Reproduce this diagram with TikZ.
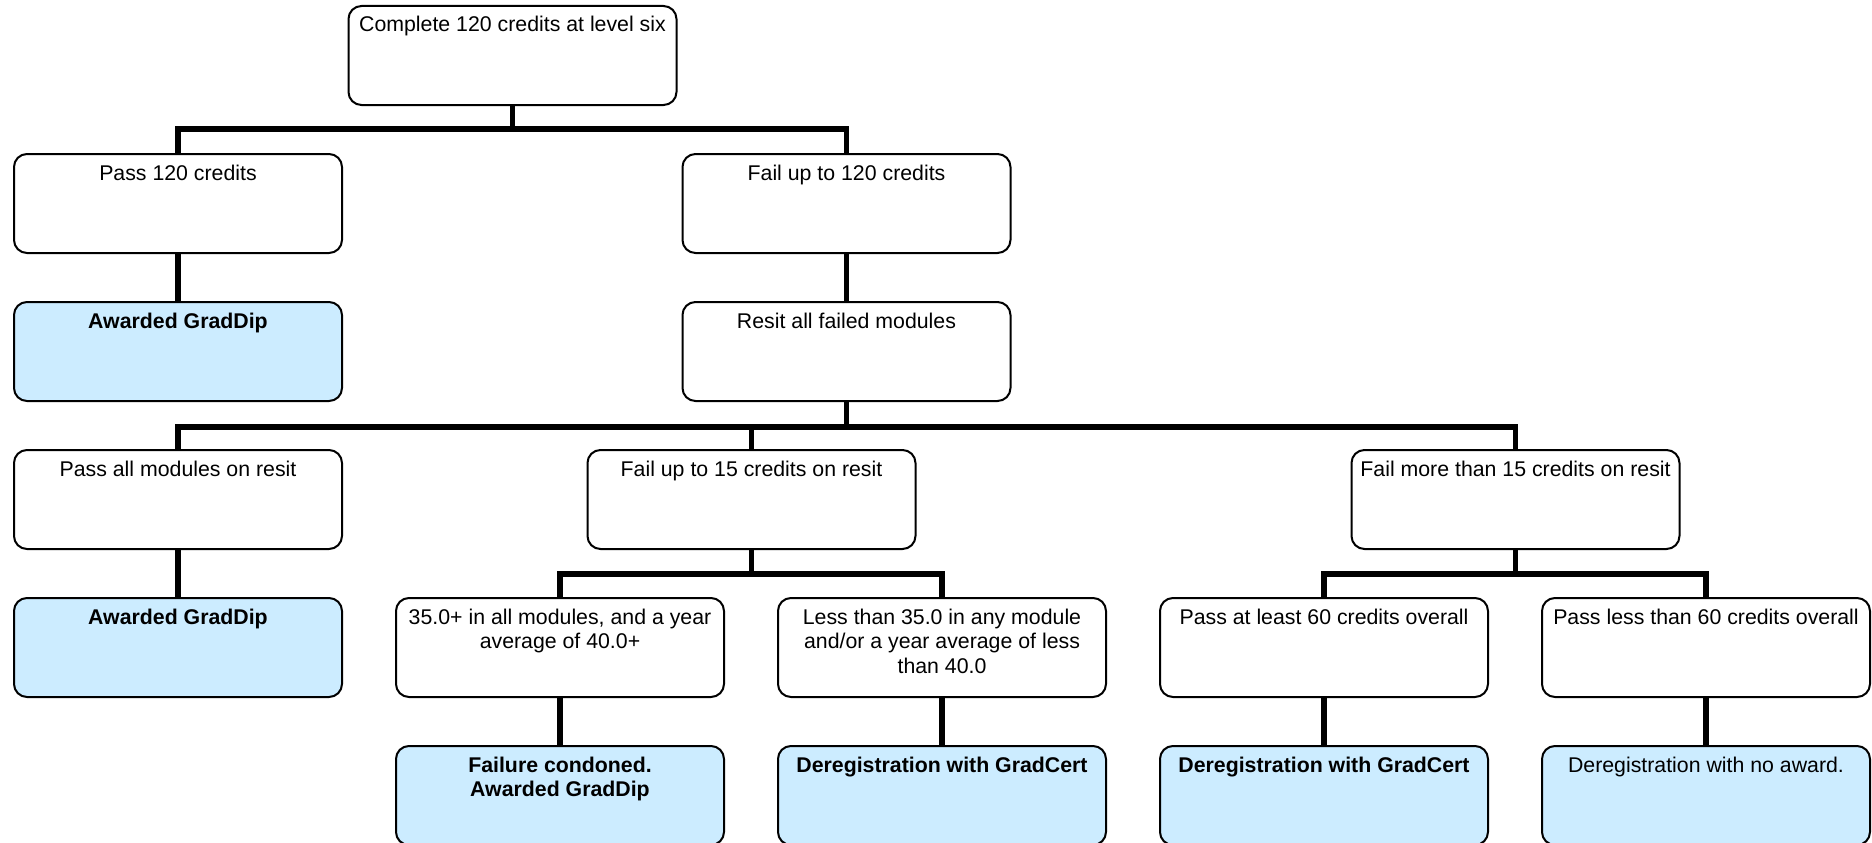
\documentclass[tikz,border=0pt]{standalone}
\usepackage{fontspec}
\setmainfont{Liberation Sans}
\usetikzlibrary{calc}
\definecolor{outcome}{RGB}{204,236,255}
\newcommand{\boxtext}[1]{\parbox[c][99pt][t]{328pt}{\centering\fontsize{21.3}{24.5}\selectfont\rule{0pt}{26pt}#1}}
\tikzset{
  box/.style={draw=black, line width=2pt, rounded corners=13pt, fill=white,
    inner sep=0pt, outer sep=0pt, anchor=north, minimum width=328pt, minimum height=99pt},
  outbox/.style={box, fill=outcome},
  conn/.style={line width=5.5pt},
}
\begin{document}
\begin{tikzpicture}[x=1pt, y=-1pt]
\useasboundingbox (0,0) rectangle (1872,843);

% decision boxes
\node[box] (top) at (512.5,6) {\boxtext{Complete 120 credits at level six}};
\node[box] (pass120) at (178,154) {\boxtext{Pass 120 credits}};
\node[box] (fail120) at (846.5,154) {\boxtext{Fail up to 120 credits}};
\node[outbox] (grad1) at (178,302) {\boxtext{\textbf{Awarded GradDip}}};
\node[box] (resit) at (846.5,302) {\boxtext{Resit all failed modules}};
\node[box] (passall) at (178,450) {\boxtext{Pass all modules on resit}};
\node[box] (fail15) at (751.5,450) {\boxtext{Fail up to 15 credits on resit}};
\node[box] (failmore) at (1515.5,450) {\boxtext{Fail more than 15 credits on resit}};
\node[outbox] (grad2) at (178,598) {\boxtext{\textbf{Awarded GradDip}}};
\node[box] (above35) at (560,598) {\boxtext{35.0+ in all modules, and a year\\average of 40.0+}};
\node[box] (below35) at (942,598) {\boxtext{Less than 35.0 in any module\\and/or a year average of less\\than 40.0}};
\node[box] (least60) at (1324,598) {\boxtext{Pass at least 60 credits overall}};
\node[box] (less60) at (1706,598) {\boxtext{Pass less than 60 credits overall}};

% outcomes
\node[outbox] (condoned) at (560,746) {\boxtext{\textbf{Failure condoned.}\\\textbf{Awarded GradDip}}};
\node[outbox] (cert1) at (942,746) {\boxtext{\textbf{Deregistration with GradCert}}};
\node[outbox] (cert2) at (1324,746) {\boxtext{\textbf{Deregistration with GradCert}}};
\node[outbox] (noaward) at (1706,746) {\boxtext{Deregistration with no award.}};

% branch points
\coordinate (j1) at ($(top.south)+(0,24)$);
\coordinate (j2) at ($(resit.south)+(0,26)$);
\coordinate (j3) at ($(fail15.south)+(0,25)$);
\coordinate (j4) at ($(failmore.south)+(0,25)$);

% connectors
\draw[conn] (top.south) -- (j1);
\draw[conn] (pass120.north) |- (j1) -| (fail120.north);
\draw[conn] (pass120.south) -- (grad1.north);
\draw[conn] (fail120.south) -- (resit.north);
\draw[conn] (resit.south) -- (j2);
\draw[conn] (passall.north) |- (j2) -| (failmore.north);
\draw[conn] (fail15.north) -- (fail15.north |- j2);
\draw[conn] (passall.south) -- (grad2.north);
\draw[conn] (fail15.south) -- (j3);
\draw[conn] (above35.north) |- (j3) -| (below35.north);
\draw[conn] (failmore.south) -- (j4);
\draw[conn] (least60.north) |- (j4) -| (less60.north);
\draw[conn] (above35.south) -- (condoned.north);
\draw[conn] (below35.south) -- (cert1.north);
\draw[conn] (least60.south) -- (cert2.north);
\draw[conn] (less60.south) -- (noaward.north);
\end{tikzpicture}
\end{document}
